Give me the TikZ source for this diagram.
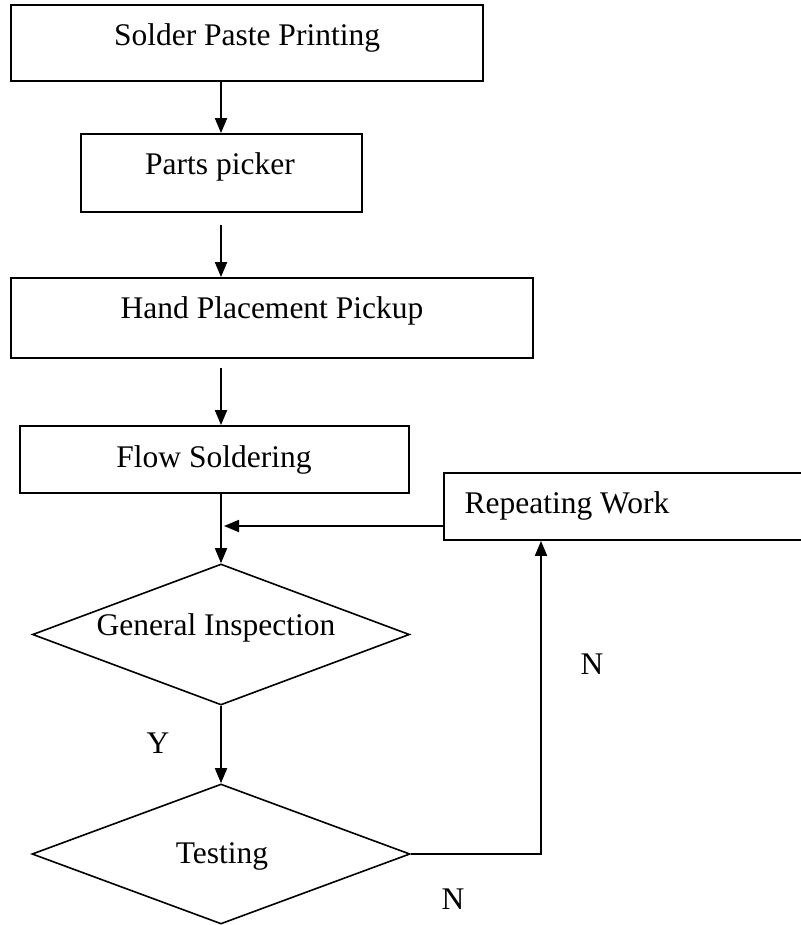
\documentclass[tikz,border=0pt]{standalone}
\usepackage{fontspec}
\setmainfont{Liberation Serif}
\usetikzlibrary{arrows.meta,shapes.geometric}
\begin{document}
\begin{tikzpicture}[x=1pt,y=-1pt,
  line width=1.8pt,
  boxstyle/.style={draw,rectangle,inner sep=0pt,line width=1.8pt},
  decide/.style={draw,diamond,inner sep=0pt,line width=1.6pt},
  lbl/.style={anchor=base,inner sep=0pt,font=\fontsize{31.5}{36}\selectfont},
  arr/.style={-{Triangle[length=15pt,width=12pt]},line width=1.8pt}]
\useasboundingbox (0,0) rectangle (800,925);
% boxes
\node[boxstyle,minimum width=472,minimum height=76] (b1) at (247,43) {};
\node[boxstyle,minimum width=281,minimum height=78] (b2) at (221.5,173) {};
\node[boxstyle,minimum width=522,minimum height=80] (b3) at (272,318) {};
\node[boxstyle,minimum width=389,minimum height=67] (b4) at (214.5,459.5) {};
\node[boxstyle,minimum width=360,minimum height=67] (rw) at (624,506.5) {};
\node[decide,minimum width=377,minimum height=141] (gi) at (221,634.5) {};
\node[decide,minimum width=378,minimum height=140] (ts) at (221,854) {};
% texts
\node[lbl] (t1) at (247,46) {Solder Paste Printing};
\node[lbl] (t2) at (220,175) {Parts picker};
\node[lbl] (t3) at (272,318) {Hand Placement Pickup};
\node[lbl] (t4) at (214,467) {Flow Soldering};
\node[lbl] (t5) at (567,513) {Repeating Work};
\node[lbl] (t6) at (216,635) {General Inspection};
\node[lbl] (t7) at (222,863) {Testing};
\node[lbl] (ny) at (158,753) {Y};
\node[lbl] (n1) at (592,674) {N};
\node[lbl] (n2) at (453,909) {N};
% connectors
\coordinate (col) at (221,0);
\coordinate (merge) at (224,526);
\coordinate (xcol) at (541,0);
\draw[arr] (b1.south -| col) -- (b2.north -| col);
\draw[arr,shorten <=12pt] (b2.south -| col) -- (b3.north -| col);
\draw[arr,shorten <=9pt] (b3.south -| col) -- (b4.north -| col);
\draw[arr] (b4.south -| col) -- (gi.north);
\draw[arr] (rw.west |- merge) -- (merge);
\draw[arr] (gi.south) -- (ts.north);
\draw[arr] (ts.east) -- (ts.east -| xcol) -- (rw.south -| xcol);
\end{tikzpicture}
\end{document}
